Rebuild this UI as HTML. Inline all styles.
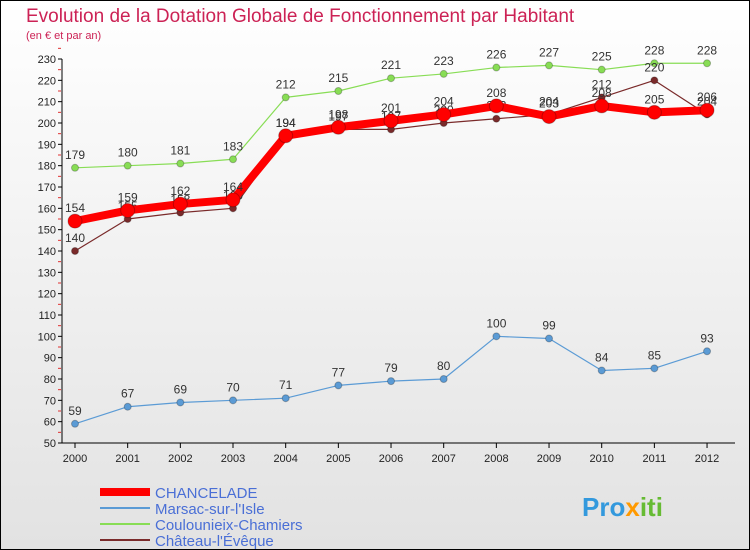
<!DOCTYPE html>
<html><head><meta charset="utf-8"><style>
body{margin:0;width:750px;height:550px;overflow:hidden;font-family:"Liberation Sans",sans-serif}
svg{display:block}
</style></head><body>
<svg width="750" height="550" id="c">
<defs><linearGradient id="bg" x1="0" y1="0" x2="0" y2="1"><stop offset="0" stop-color="#ffffff"/><stop offset="1" stop-color="#e2e2e2"/></linearGradient></defs>
<rect x="0.5" y="0.5" width="749" height="549" fill="url(#bg)" stroke="#000"/>
<text x="26" y="22" font-size="19" fill="#cc2255">Evolution de la Dotation Globale de Fonctionnement par Habitant</text>
<text x="26" y="39" font-size="11" fill="#cc2255">(en € et par an)</text>
<g id="axes"></g><g id="series"></g>
<g>
<line x1="100" y1="492" x2="150" y2="492" stroke="#ff0000" stroke-width="8"/>
<text x="155" y="498" font-size="15" fill="#4a6fd6">CHANCELADE</text>
<line x1="100" y1="508" x2="150" y2="508" stroke="#5b9bd5" stroke-width="2"/>
<text x="155" y="514" font-size="15" fill="#4a6fd6">Marsac-sur-l'Isle</text>
<line x1="100" y1="524" x2="150" y2="524" stroke="#88dd55" stroke-width="2"/>
<text x="155" y="530" font-size="15" fill="#4a6fd6">Coulounieix-Chamiers</text>
<line x1="100" y1="540" x2="150" y2="540" stroke="#7a2a2a" stroke-width="2"/>
<text x="155" y="546" font-size="15" fill="#4a6fd6">Château-l'Évêque</text>
</g>
<text x="582" y="516" font-size="26" font-weight="bold" fill="#3399dd">Pro<tspan fill="#ff9900">x</tspan><tspan fill="#66bb33">iti</tspan></text>
</svg>
<script>
const years=[2000,2001,2002,2003,2004,2005,2006,2007,2008,2009,2010,2011,2012];
const yTicks=[50,60,70,80,90,100,110,120,130,140,150,160,170,180,190,200,210,220,230];
const chancelade=[154,159,162,164,194,198,201,204,208,203,208,205,206];
const marsac=[59,67,69,70,71,77,79,80,100,99,84,85,93];
const coulounieix=[179,180,181,183,212,215,221,223,226,227,225,228,228];
const chateau=[140,155,158,160,194,197,197,200,202,204,212,220,204];
const NS="http://www.w3.org/2000/svg";
const X=i=>75+i*52.67, Y=v=>443-(v-50)*384/180;
function mk(p,t,a){const e=document.createElementNS(NS,t);for(const k in a)e.setAttribute(k,a[k]);p.appendChild(e);return e;}
const ax=document.getElementById('axes'), se=document.getElementById('series');
yTicks.forEach(v=>{
 const g=mk(ax,'line',{x1:58,x2:62,y1:Y(v),y2:Y(v),stroke:'#000'});
 
 
 const t=mk(ax,'text',{x:56,y:Y(v)+4,'font-size':11,'text-anchor':'end',fill:'#222'});t.textContent=v;
 
 
 const m=mk(ax,'line',{x1:58,x2:61,y1:Y(v+5),y2:Y(v+5),stroke:'#e03030'});
 
 
});
let a=mk(ax,'line',{x1:62,x2:62,y1:Y(230),y2:443,stroke:'#000'});


a=mk(ax,'line',{x1:62,x2:735,y1:443,y2:443,stroke:'#000'});


years.forEach((y,i)=>{
 const l=mk(ax,'line',{x1:X(i),x2:X(i),y1:443,y2:448,stroke:'#000'});
 
 
 const t=mk(ax,'text',{x:X(i),y:462,'font-size':11,'text-anchor':'middle',fill:'#222'});t.textContent=y;
 
 
});
function series(d,name,col,w,r){
 const g=mk(se,'g',{});
 
 
 const p=mk(g,'polyline',{points:d.map((v,i)=>X(i)+','+Y(v)).join(' '),fill:'none',stroke:col,'stroke-width':w,'stroke-linejoin':'round'});
 
 
 d.forEach((v,i)=>{
  const c=mk(g,'circle',{cx:X(i),cy:Y(v),r:r,fill:col,stroke:'rgba(0,0,0,0.25)'});
  
  
  const t=mk(g,'text',{x:X(i),y:Y(v)-9,'font-size':12,'text-anchor':'middle',fill:'#333'});t.textContent=v;
  
  
 });
}
series(marsac,'marsac','#5b9bd5',1.2,3.5);
series(coulounieix,'coulounieix','#88dd55',1.2,3.5);
series(chateau,'chateau','#7a2a2a',1.2,3.5);
series(chancelade,'chancelade','#ff0000',8,7);
</script>
</body></html>
